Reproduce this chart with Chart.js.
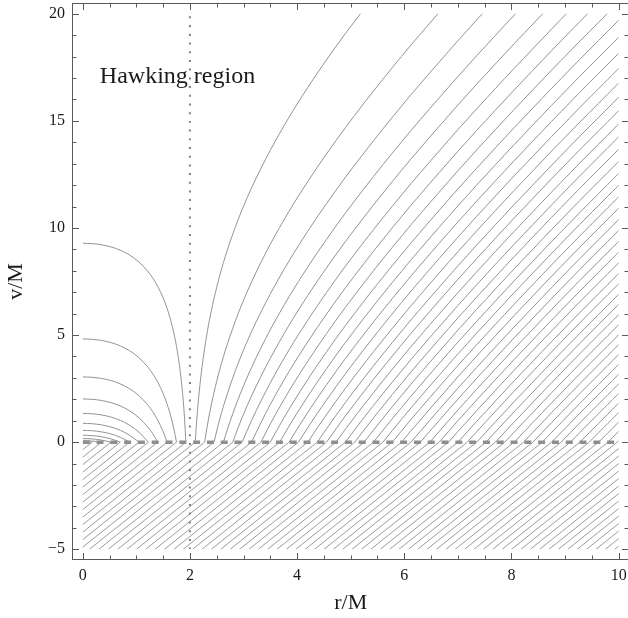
<!DOCTYPE html>
<html>
<head>
<meta charset="utf-8">
<title>Hawking region</title>
<script src="https://cdn.jsdelivr.net/npm/chart.js@4.4.1/dist/chart.umd.min.js"></script>
<style>
  html, body { margin: 0; padding: 0; background: #fff; overflow: hidden; }
  #rayChart { display: block; }
</style>
</head>
<body>
<canvas id="rayChart" width="640" height="618"></canvas>
<script>
/* ---------------- TICKS ---------------- */
const xTickValues = [0, 2, 4, 6, 8, 10];
const xMinorTicks = [0.5, 1, 1.5, 2.5, 3, 3.5, 4.5, 5, 5.5, 6.5, 7, 7.5, 8.5, 9, 9.5];
const yTickValues = [-5, 0, 5, 10, 15, 20];
const yMinorTicks = [-4, -3, -2, -1, 1, 2, 3, 4, 6, 7, 8, 9, 11, 12, 13, 14, 16, 17, 18, 19];

/* ---------------- RAYS ---------------- */
// where each light ray crosses v = 0
const rayFootR = [
  0.175, 0.35, 0.525, 0.7, 0.875, 1.05, 1.225, 1.4, 1.575, 1.75, 1.925,
  2.1, 2.275, 2.45, 2.625, 2.8, 2.975, 3.15, 3.325, 3.5, 3.675, 3.85,
  4.025, 4.2, 4.375, 4.55, 4.725, 4.9, 5.075, 5.25, 5.425, 5.6, 5.775,
  5.95, 6.125, 6.3, 6.475, 6.65, 6.825, 7.0, 7.175, 7.35, 7.525, 7.7,
  7.875, 8.05, 8.225, 8.4, 8.575, 8.75, 8.925, 9.1, 9.275, 9.45, 9.625,
  9.8, 9.975, 10.15, 10.325, 10.5, 10.675, 10.85, 11.025, 11.2, 11.375,
  11.55, 11.725, 11.9, 12.075, 12.25, 12.425
];
// where the same straight rays meet v = -5 (lower edge of the hatching)
const hatchBottomR = [
  -2.325, -2.15, -1.975, -1.8, -1.625, -1.45, -1.275, -1.1, -0.925, -0.75, -0.575,
  -0.4, -0.225, -0.05, 0.125, 0.3, 0.475, 0.65, 0.825, 1.0, 1.175, 1.35,
  1.525, 1.7, 1.875, 2.05, 2.225, 2.4, 2.575, 2.75, 2.925, 3.1, 3.275,
  3.45, 3.625, 3.8, 3.975, 4.15, 4.325, 4.5, 4.675, 4.85, 5.025, 5.2,
  5.375, 5.55, 5.725, 5.9, 6.075, 6.25, 6.425, 6.6, 6.775, 6.95, 7.125,
  7.3, 7.475, 7.65, 7.825, 8.0, 8.175, 8.35, 8.525, 8.7, 8.875,
  9.05, 9.225, 9.4, 9.575, 9.75, 9.925
];

// shape of the rays inside r = 2 (all rays are this curve shifted up/down)
const innerGridR = [0, 0.175, 0.35, 0.525, 0.7, 0.875, 1.05, 1.225, 1.3, 1.4, 1.5,
  1.575, 1.65, 1.7, 1.75, 1.8, 1.85, 1.875, 1.9, 1.925];
const innerGridV = [0, -0.016, -0.070, -0.168, -0.323, -0.552, -0.878, -1.342, -1.599, -2.016, -2.545,
  -3.045, -3.672, -4.189, -4.818, -5.610, -6.661, -7.340, -8.183, -9.284];

// shape of the rays outside r = 2
const outerGridR = [2.1, 2.11, 2.125, 2.15, 2.2, 2.25, 2.275, 2.3, 2.35, 2.4, 2.45, 2.5, 2.55,
  2.625, 2.7, 2.8, 2.9, 2.975, 3.15, 3.325, 3.5, 3.675, 3.85, 4.025, 4.2, 4.375,
  4.55, 4.725, 4.9, 5.075, 5.25, 5.425, 5.6, 5.775, 5.95, 6.125, 6.3, 6.475,
  6.65, 6.825, 7.0, 7.175, 7.35, 7.525, 7.7, 7.875, 8.05, 8.225, 8.4, 8.575,
  8.75, 8.925, 9.1, 9.275, 9.45, 9.625, 9.8, 9.975, 10];
const outerGridV = [-7.78, -7.38, -6.84, -6.06, -4.81, -3.82, -3.39, -2.99, -2.27, -1.64, -1.07, -0.55, -0.06,
  0.60, 1.20, 1.93, 2.61, 3.08, 4.09, 5.00, 5.85, 6.64, 7.39, 8.10, 8.78, 9.44,
  10.07, 10.69, 11.29, 11.87, 12.44, 13.00, 13.55, 14.09, 14.62, 15.15, 15.66, 16.17,
  16.67, 17.17, 17.67, 18.15, 18.64, 19.11, 19.59, 20.06, 20.53, 20.99, 21.45, 21.91,
  22.37, 22.82, 23.27, 23.72, 24.16, 24.60, 25.04, 25.48, 25.55];

/* ---------------- HILFSFUNKTION: DATASET ---------------- */
function lineSet(points, color, width, dash) {
  return {
    data: points,
    showLine: true,
    borderColor: color,
    borderWidth: width,
    borderDash: dash || [],
    borderCapStyle: "butt",
    pointRadius: 0,
    pointHoverRadius: 0,
    cubicInterpolationMode: "monotone",
    fill: false
  };
}

function findIndex(grid, r) {
  return grid.findIndex(g => Math.abs(g - r) < 1e-6);
}

const datasets = [];

// v = 0 shell (dashed) and horizon r = 2 (dotted), on top
datasets.push(lineSet([{ x: 0, y: 0 }, { x: 10, y: 0 }], "#8e8e8e", 3.5, [7, 6.8]));
datasets.push(lineSet([{ x: 2, y: -5 }, { x: 2, y: 20 }], "#808080", 2, [2, 6.7]));

// rays above v = 0
rayFootR.forEach(r0 => {
  if (r0 < 2) {
    const j = findIndex(innerGridR, r0);
    const pts = innerGridR.slice(0, j + 1).map((r, n) => ({ x: r, y: innerGridV[n] - innerGridV[j] }));
    datasets.push(lineSet(pts, "#939393", 1));
  } else if (r0 <= 10) {
    const j = findIndex(outerGridR, r0);
    const pts = outerGridR.slice(j).map((r, n) => ({ x: r, y: outerGridV[j + n] - outerGridV[j] }));
    datasets.push(lineSet(pts, "#939393", 1));
  }
});

// straight rays below v = 0 (hatching)
rayFootR.forEach((r0, i) => {
  datasets.push(lineSet([{ x: hatchBottomR[i], y: -5 }, { x: r0, y: 0 }], "#9b9b9b", 1));
});

/* ---------------- PLUGIN: FRAME, TICKS, LABEL ---------------- */
const framePlugin = {
  id: "frame",
  beforeDatasetsDraw(chart) {
    const { ctx, scales: { x, y } } = chart;
    const left = x.getPixelForValue(0), right = x.getPixelForValue(10);
    const top = y.getPixelForValue(20), bottom = y.getPixelForValue(-5);
    ctx.save();
    ctx.beginPath();
    ctx.rect(left, top, right - left, bottom - top);
    ctx.clip();
  },
  afterDatasetsDraw(chart) {
    const { ctx, scales: { x, y } } = chart;
    ctx.restore();
    ctx.save();
    ctx.fillStyle = "#1a1a1a";
    ctx.font = "24px 'Liberation Serif', 'Times New Roman', serif";
    ctx.textBaseline = "alphabetic";
    ctx.fillText("Hawking region", x.getPixelForValue(0.32), y.getPixelForValue(16.78));
    ctx.restore();
  },
  afterDraw(chart) {
    const { ctx, chartArea: a, scales: { x, y } } = chart;
    const L = Math.round(a.left) + 0.5, R = Math.round(a.right) - 0.5;
    const T = Math.round(a.top) + 0.5, B = Math.round(a.bottom) - 0.5;
    ctx.save();
    ctx.strokeStyle = "#5a5a5a";
    ctx.lineWidth = 1;
    ctx.strokeRect(L, T, R - L, B - T);
    ctx.beginPath();
    const xt = (v, len) => {
      const px = Math.round(x.getPixelForValue(v)) + 0.5;
      ctx.moveTo(px, B); ctx.lineTo(px, B - len);
      ctx.moveTo(px, T); ctx.lineTo(px, T + len);
    };
    const yt = (v, len) => {
      const py = Math.round(y.getPixelForValue(v)) + 0.5;
      ctx.moveTo(L, py); ctx.lineTo(L + len, py);
      ctx.moveTo(R, py); ctx.lineTo(R - len, py);
    };
    xTickValues.forEach(v => xt(v, 6.5));
    xMinorTicks.forEach(v => xt(v, 4));
    yTickValues.forEach(v => yt(v, 6.5));
    yMinorTicks.forEach(v => yt(v, 4));
    ctx.stroke();
    ctx.restore();
  }
};

/* ---------------- CHART ---------------- */
Chart.defaults.font.family = "'Liberation Serif', 'Times New Roman', serif";
Chart.defaults.color = "#1a1a1a";

const minus = v => String(v).replace("-", "\u2212");

new Chart(document.getElementById("rayChart"), {
  type: "scatter",
  data: { datasets: datasets },
  options: {
    responsive: false,
    animation: false,
    devicePixelRatio: 1,
    events: [],
    layout: { padding: { left: 0, top: 3, right: 10.6, bottom: 0 } },
    plugins: { legend: { display: false }, tooltip: { enabled: false } },
    scales: {
      x: {
        type: "linear",
        min: -0.2,
        max: 10.2,
        grid: { display: false, drawTicks: false },
        border: { display: false },
        ticks: { font: { size: 16 }, padding: 6, callback: minus, maxRotation: 0 },
        afterBuildTicks: s => { s.ticks = xTickValues.map(v => ({ value: v })); },
        afterFit: s => { s.height = 58; s.paddingLeft = 0; s.paddingRight = 0; },
        title: { display: true, text: "r/M", font: { size: 22 }, padding: { top: 0, bottom: 2 } }
      },
      y: {
        type: "linear",
        min: -5.5,
        max: 20.5,
        grid: { display: false, drawTicks: false },
        border: { display: false },
        ticks: { font: { size: 16 }, padding: 7, callback: minus },
        afterBuildTicks: s => { s.ticks = yTickValues.map(v => ({ value: v })); },
        afterFit: s => { s.width = 72; s.paddingTop = 0; s.paddingBottom = 0; },
        title: { display: true, text: "v/M", font: { size: 22 }, padding: { top: 3, bottom: 0 } }
      }
    }
  },
  plugins: [framePlugin]
});
</script>
</body>
</html>
